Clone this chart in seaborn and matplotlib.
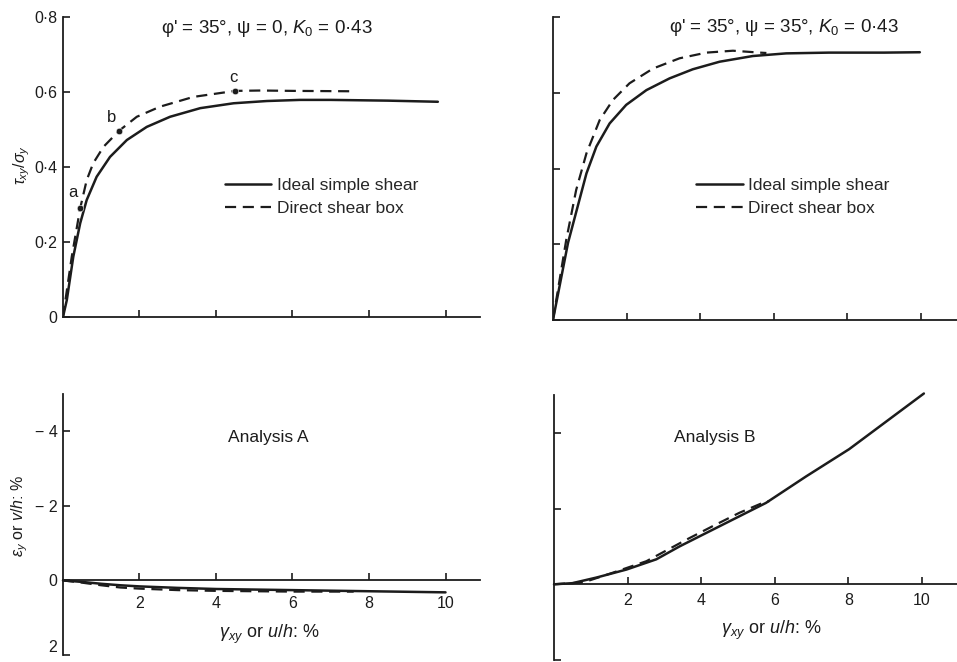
import seaborn as sns
import matplotlib.pyplot as plt
from matplotlib.ticker import FixedLocator

# Data
# top-left: phi'=35, psi=0
tl_ideal_x = [0, 0.1, 0.27, 0.45, 0.62, 0.88, 1.23, 1.67, 2.19, 2.8, 3.59, 4.46, 5.33, 6.2, 7.0, 8.5, 9.8]
tl_ideal_y = [0, 0.045, 0.161, 0.25, 0.312, 0.374, 0.427, 0.472, 0.507, 0.534, 0.557, 0.57, 0.576, 0.579, 0.579, 0.577, 0.574]
tl_box_x = [0, 0.23, 0.45, 0.62, 0.79, 1.06, 1.47, 1.93, 2.54, 3.41, 4.5, 5.16, 6.03, 7.55]
tl_box_y = [0, 0.161, 0.29, 0.365, 0.41, 0.454, 0.497, 0.534, 0.561, 0.587, 0.603, 0.604, 0.603, 0.602]
pts_lbl = ['a', 'b', 'c']
pts_x = [0.45, 1.47, 4.5]
pts_y = [0.29, 0.497, 0.603]

# top-right: phi'=35, psi=35
tr_ideal_x = [0, 0.41, 0.91, 1.18, 1.54, 1.99, 2.54, 3.17, 3.8, 4.53, 5.43, 6.34, 7.5, 9.0, 9.97]
tr_ideal_y = [0, 0.204, 0.387, 0.458, 0.519, 0.568, 0.607, 0.638, 0.662, 0.682, 0.697, 0.704, 0.706, 0.706, 0.707]
tr_box_x = [0, 0.36, 0.63, 0.91, 1.27, 1.63, 2.08, 2.72, 3.44, 4.17, 4.89, 5.62, 5.8]
tr_box_y = [0, 0.211, 0.343, 0.44, 0.528, 0.581, 0.625, 0.664, 0.691, 0.706, 0.711, 0.706, 0.705]

# bottom-left: analysis A
bl_ideal_x = [0, 0.5, 1, 1.5, 2, 3, 4, 6, 8, 10]
bl_ideal_y = [0, 0.04, 0.09, 0.13, 0.16, 0.2, 0.23, 0.26, 0.29, 0.32]
bl_box_x = [0, 0.5, 1, 1.5, 2, 3, 4, 5, 6, 7, 7.6]
bl_box_y = [0, 0.06, 0.13, 0.19, 0.22, 0.26, 0.28, 0.29, 0.3, 0.3, 0.3]

# bottom-right: analysis B
br_ideal_x = [0, 0.5, 1.16, 1.97, 2.78, 3.41, 3.96, 4.86, 5.76, 6.85, 8.02, 10.05]
br_ideal_y = [0, -0.03, -0.18, -0.39, -0.66, -1.0, -1.27, -1.71, -2.15, -2.85, -3.57, -5.04]
br_box_x = [0, 0.8, 1.61, 2.51, 3.6, 4.32, 5.04, 5.67, 5.85]
br_box_y = [0, -0.05, -0.31, -0.61, -1.18, -1.54, -1.89, -2.15, -2.2]

ratio_ticks = [0, 0.2, 0.4, 0.6, 0.8]
ratio_labels = ['0', '0·2', '0·4', '0·6', '0·8']
strain_ticks = [-4, -2, 0, 2]
strain_labels = ['− 4', '− 2', '0', '2']
shear_ticks = [2, 4, 6, 8, 10]

sns.set_style('ticks')
plt.rcParams['font.family'] = ['Liberation Sans', 'DejaVu Sans']
plt.rcParams['mathtext.fontset'] = 'custom'
plt.rcParams['mathtext.rm'] = 'Liberation Sans'
plt.rcParams['mathtext.it'] = 'Liberation Sans:italic'
plt.rcParams['font.size'] = 11

ink = '#1c1c1c'
dash = (0, (5, 3))

fig = plt.figure(figsize=(9.57, 6.62), dpi=100)
ax_tl = fig.add_axes([0.0658, 0.5211, 0.4357, 0.4532])
ax_tr = fig.add_axes([0.5778, 0.5166, 0.4222, 0.4577])
ax_bl = fig.add_axes([0.0658, 0.0106, 0.4357, 0.3942])
ax_br = fig.add_axes([0.5789, 0.0030, 0.4211, 0.4003])

for ax in [ax_tl, ax_tr, ax_bl, ax_br]:
    sns.despine(ax=ax)
    ax.tick_params(direction='in', length=5, width=1.2, colors=ink, labelsize=11.5, pad=4)
    for s in ['left', 'bottom']:
        ax.spines[s].set_linewidth(1.3)
        ax.spines[s].set_color(ink)
    ax.xaxis.set_major_locator(FixedLocator(shear_ticks))

# top panels
for ax, ix, iy, bx, by in [(ax_tl, tl_ideal_x, tl_ideal_y, tl_box_x, tl_box_y),
                           (ax_tr, tr_ideal_x, tr_ideal_y, tr_box_x, tr_box_y)]:
    sns.lineplot(x=ix, y=iy, ax=ax, color=ink, lw=1.8, label='Ideal simple shear')
    sns.lineplot(x=bx, y=by, ax=ax, color=ink, lw=1.6, ls=dash, label='Direct shear box')
    ax.set_ylim(0, 0.8)
    ax.set_yticks(ratio_ticks)
    ax.set_xticklabels([])

ax_tl.set_xlim(0, 10.9)
ax_tr.set_xlim(0, 10.98)
ax_tl.set_yticklabels(ratio_labels)
ax_tr.set_yticklabels([])

leg_kw = dict(loc='upper left', frameon=False, handlelength=2.7, handletextpad=0.3,
              labelspacing=0.45, fontsize=12.5)
ax_tl.legend(bbox_to_anchor=(0.35, 0.515), **leg_kw)
ax_tr.legend(bbox_to_anchor=(0.315, 0.52), **leg_kw)

sns.scatterplot(x=pts_x, y=pts_y, ax=ax_tl, color=ink, s=22, zorder=5, legend=False)
for lbl, px, py, dx, dy in zip(pts_lbl, pts_x, pts_y, [-0.19, -0.2, -0.04], [0.043, 0.035, 0.035]):
    ax_tl.text(px + dx, py + dy, lbl, ha='center', va='center', fontsize=12, color=ink)

ax_tl.text(-0.1, 0.507, r'$\tau_{xy}/\sigma_y$', transform=ax_tl.transAxes, rotation=90,
           ha='center', va='center', fontsize=11.5, color=ink)

ax_tl.text(0.49, 0.963, "φ' = 35°, ψ = 0, $K_0$ = 0·43", transform=ax_tl.transAxes,
           ha='center', va='center', fontsize=13.5, color=ink)
ax_tr.text(0.572, 0.964, "φ' = 35°, ψ = 35°, $K_0$ = 0·43", transform=ax_tr.transAxes,
           ha='center', va='center', fontsize=13.5, color=ink)

# bottom panels
for ax, ix, iy, bx, by in [(ax_bl, bl_ideal_x, bl_ideal_y, bl_box_x, bl_box_y),
                           (ax_br, br_ideal_x, br_ideal_y, br_box_x, br_box_y)]:
    sns.lineplot(x=ix, y=iy, ax=ax, color=ink, lw=1.8, clip_on=False)
    sns.lineplot(x=bx, y=by, ax=ax, color=ink, lw=1.6, ls=dash)
    ax.set_ylim(2, -5)
    ax.set_yticks(strain_ticks)
    ax.spines['bottom'].set_position(('data', 0))
    ax.set_xticklabels([str(t) for t in shear_ticks])

ax_bl.tick_params(axis='x', pad=11)
ax_br.tick_params(axis='x', pad=6)

ax_bl.set_xlim(0, 10.9)
ax_br.set_xlim(0, 10.95)
ax_bl.set_yticklabels(strain_labels)
ax_bl.get_yticklabels()[-1].set_va('bottom')
ax_br.set_yticklabels([])

ax_bl.text(-0.103, 0.534, r'$\varepsilon_y$ or $v/h$: %', transform=ax_bl.transAxes, rotation=90,
           ha='center', va='center', fontsize=11.5, color=ink)

ax_bl.text(5.4, 1.45, r'$\gamma_{xy}$ or $u/h$: %', ha='center', va='center', fontsize=13, color=ink)
ax_br.text(5.9, 1.23, r'$\gamma_{xy}$ or $u/h$: %', ha='center', va='center', fontsize=13, color=ink)
ax_bl.text(5.37, -3.84, 'Analysis A', ha='center', va='center', fontsize=12.5, color=ink)
ax_br.text(4.36, -3.87, 'Analysis B', ha='center', va='center', fontsize=12.5, color=ink)

fig.savefig('out.png', dpi=100)
